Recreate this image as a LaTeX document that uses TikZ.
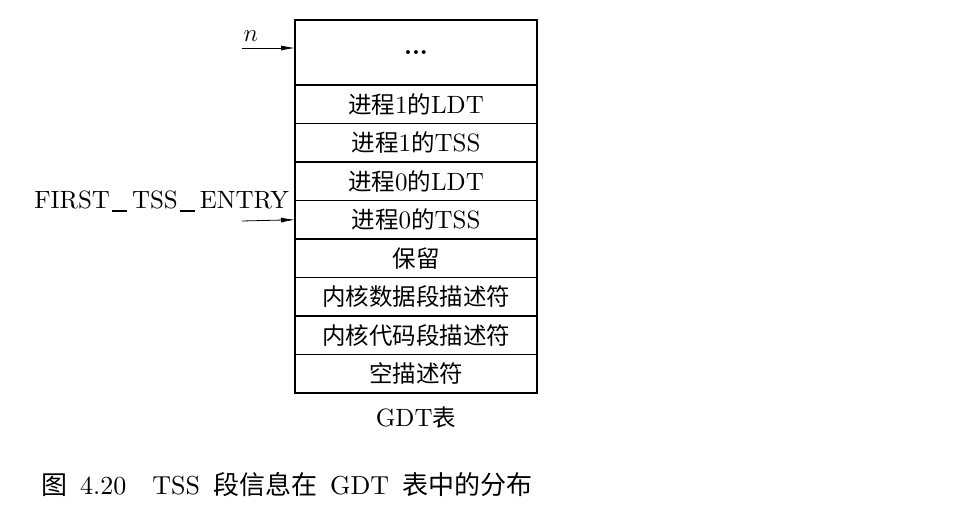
\documentclass[tikz,border=0pt]{standalone}
\usepackage{fontspec}
\setmainfont{lmroman10-regular}[Extension=.otf, ItalicFont=lmroman10-italic, BoldFont=lmroman10-bold]
\newfontfamily\cjk[Scale=0.94]{Noto Sans CJK SC}
\newfontfamily\cjkcap{Noto Sans CJK SC}
\usetikzlibrary{positioning}
\usetikzlibrary{arrows.meta}
\newcommand{\zh}[1]{{\cjk #1}}
\newcommand{\zhcap}[1]{{\cjkcap #1}}
\newcommand{\tssbar}{\kern.08em\rule[-.15em]{.6em}{.05em}\kern.2em}
\tikzset{
    entry/.style = {rectangle, draw=black, line width=1.6pt, outer sep=0pt, inner sep=0pt,
                    minimum width=242pt, minimum height=38.5pt},
    pointer/.style = {-{Latex[length=14pt,width=5pt]}, line width=0.8pt},
    every picture/.style={font issue=\fontsize{25}{30}},
    font issue/.style={execute at begin picture={#1\selectfont}
  }
}
\begin{document}
\begin{tikzpicture}[x=1pt,y=-1pt]
\useasboundingbox (0,0) rectangle (970,508);
%
\node[entry, anchor=north, minimum height=65pt, font=\bfseries] at (416,20) (dots) {...};
\node[entry, below=0pt of dots] (ldtone) {\zh{进程}1\zh{的}LDT};
\node[entry, below=0pt of ldtone] (tssone) {\zh{进程}1\zh{的}TSS};
\node[entry, below=0pt of tssone] (ldtzero) {\zh{进程}0\zh{的}LDT};
\node[entry, below=0pt of ldtzero] (tsszero) {\zh{进程}0\zh{的}TSS};
\node[entry, below=0pt of tsszero] (resv) {\zh{保留}};
\node[entry, below=0pt of resv] (kdata) {\zh{内核数据段描述符}};
\node[entry, below=0pt of kdata] (kcode) {\zh{内核代码段描述符}};
\node[entry, below=0pt of kcode] (nulldesc) {\zh{空描述符}};
\node[below=5pt of nulldesc] (gdt) {GDT\zh{表}};
%
\node at (251,36) (nlabel) {$n$};
\coordinate (nfrom) at (242,48);
\draw[pointer] (nfrom) -- (nfrom -| dots.west);
%
\node[anchor=base east, inner sep=0pt] at (289,208) (first) {FIRST\tssbar TSS\tssbar ENTRY};
\coordinate (ffrom) at (242,221);
\draw[pointer] (ffrom) -- (tsszero.west);
%
\node[anchor=west, inner sep=0pt, font=\fontsize{26}{30}\selectfont] at (41,485) (caption) {\zhcap{图}\hspace{.5em}4.20\hspace{1em}TSS\hspace{.5em}\zhcap{段信息在}\hspace{.5em}GDT\hspace{.5em}\zhcap{表中的分布}};

\end{tikzpicture}
\end{document}
